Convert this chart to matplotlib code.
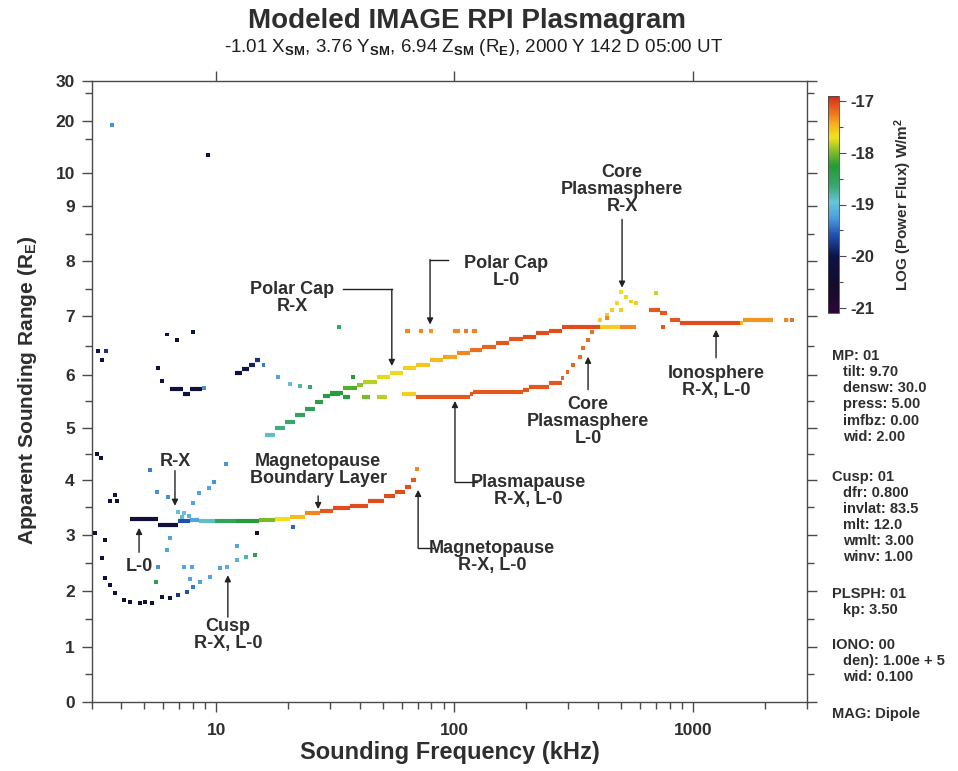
import numpy as np
import matplotlib
matplotlib.use("Agg")
import matplotlib.pyplot as plt
from matplotlib.colors import LinearSegmentedColormap, Normalize
from matplotlib.ticker import FixedLocator, FuncFormatter, NullFormatter

plt.rcParams['font.family'] = ['Liberation Sans', 'DejaVu Sans']
plt.rcParams['font.weight'] = 'bold'
plt.rcParams['mathtext.fontset'] = 'custom'
plt.rcParams['mathtext.rm'] = 'Liberation Sans'
plt.rcParams['mathtext.bf'] = 'Liberation Sans:bold'
plt.rcParams['mathtext.it'] = 'Liberation Sans:italic'

TXT = '#2e2e2e'

# ---------------- data (frequency kHz, apparent range R_E, log power flux) ----
# step segments: low freq, high freq, range, flux
mp_f_lo = [4.35, 5.7, 6.9, 7.75, 8.5, 9.9, 12.1, 15.2, 17.6, 20.4, 23.5, 27.4, 30.9, 36.5, 43.2, 50.4, 56.1, 62.0, 66.0]
mp_f_hi = [5.7, 6.9, 7.75, 8.5, 9.9, 12.1, 15.2, 17.6, 20.4, 23.5, 27.4, 30.9, 36.5, 43.2, 50.4, 56.1, 62.0, 66.0, 69.0]
mp_range = [3.29, 3.19, 3.25, 3.27, 3.26, 3.25, 3.25, 3.27, 3.30, 3.33, 3.40, 3.43, 3.49, 3.53, 3.61, 3.70, 3.79, 3.88, 4.00]
mp_flux = [-20.3, -20.2, -19.6, -19.2, -18.9, -18.5, -18.3, -18.0, -17.7, -17.5, -17.3, -17.1, -17.05, -17.05, -17.05, -17.05, -17.05, -17.05, -17.1]

pcrx_f_lo = [16.0, 17.7, 19.5, 21.4, 23.6, 26.0, 28.1]
pcrx_f_hi = [17.7, 19.5, 21.4, 23.6, 26.0, 28.1, 30.0]
pcrx_range = [4.87, 5.00, 5.12, 5.25, 5.36, 5.49, 5.60]
pcrx_flux = [-18.9, -18.7, -18.6, -18.5, -18.45, -18.4, -18.35]

up_f_lo = [30.0, 34.1, 39.0, 41.4, 47.4, 53.7, 61.1, 69.2, 79.2, 89.4, 102, 116, 131, 150, 170, 193, 219, 250, 284, 409, 496]
up_f_hi = [34.1, 39.0, 41.4, 47.4, 53.7, 61.1, 69.2, 79.2, 89.4, 102, 116, 131, 150, 170, 193, 219, 250, 284, 409, 496, 577]
up_range = [5.66, 5.76, 5.81, 5.87, 5.96, 6.03, 6.12, 6.17, 6.26, 6.31, 6.38, 6.43, 6.48, 6.55, 6.62, 6.65, 6.72, 6.75, 6.82, 6.82, 6.82]
up_flux = [-18.3, -18.1, -17.95, -17.85, -17.75, -17.65, -17.6, -17.55, -17.5, -17.4, -17.3, -17.2, -17.15, -17.1, -17.1, -17.05, -17.05, -17.05, -17.05, -17.6, -17.3]

pp_f_lo = [30.0, 34.1, 41.0, 47.4, 60.2, 69.2, 116, 119.6, 193, 206, 250]
pp_f_hi = [33.1, 36.5, 44.2, 52.2, 69.2, 116, 119.6, 193, 206, 250, 284]
pp_range = [5.64, 5.59, 5.59, 5.59, 5.64, 5.59, 5.64, 5.68, 5.72, 5.77, 5.85]
pp_flux = [-18.3, -18.3, -18.0, -17.85, -17.6, -17.1, -17.1, -17.1, -17.1, -17.1, -17.1]

pcl0_f_lo = [62, 71, 78, 99, 110, 118]
pcl0_f_hi = [65, 74, 81, 106, 114, 124]
pcl0_range = [6.75, 6.75, 6.75, 6.75, 6.75, 6.75]
pcl0_flux = [-17.3, -17.3, -17.35, -17.3, -17.25, -17.3]

iono_f_lo = [654, 731, 802, 886, 1585, 1630]
iono_f_hi = [731, 780, 886, 1585, 1630, 2163]
iono_range = [7.12, 7.06, 6.94, 6.89, 6.89, 6.94]
iono_flux = [-17.1, -17.1, -17.1, -17.05, -17.5, -17.35]

low_f_lo = [6.39, 7.25, 7.75, 12.0, 12.9, 13.8, 14.6]
low_f_hi = [7.25, 7.75, 8.76, 12.9, 13.8, 14.6, 15.3]
low_range = [5.74, 5.64, 5.74, 6.03, 6.10, 6.17, 6.26]
low_flux = [-20.2, -20.2, -20.2, -20.1, -20.0, -19.9, -19.8]

# isolated echoes
pt_freq = [3.67, 9.24,
           3.2, 3.45, 3.33, 6.22, 6.86, 8.0, 5.69, 5.93, 8.9,
           15.8, 18.2, 20.4, 22.5, 24.7, 32.7, 37.5,
           3.15, 3.3, 3.6, 3.85, 3.75,
           3.1, 3.42, 3.32, 3.42, 3.59, 3.77, 4.12, 4.35, 4.79, 5.03, 5.4, 5.93, 6.39,
           6.93, 7.53, 8.0, 8.53, 9.4, 10.4, 11.1, 12.2, 13.4, 14.6,
           5.67, 6.3, 6.9, 8.0, 8.5, 9.3, 9.8, 7.3, 7.7, 7.2,
           5.3, 11.0, 6.4, 6.2, 5.7, 7.3, 7.9, 7.75, 5.6, 12.2, 14.8, 21.0,
           69.8,
           284, 298, 315, 337, 346, 364, 379,
           409, 437, 458, 479, 502, 526, 551, 577, 502, 700, 437,
           750, 2470, 2618]
pt_range = [19.2, 13.5,
            6.40, 6.40, 6.26, 6.69, 6.60, 6.74, 6.12, 5.89, 5.76,
            6.17, 5.96, 5.83, 5.79, 5.77, 6.82, 5.96,
            4.50, 4.43, 3.61, 3.61, 3.72,
            3.04, 2.91, 2.59, 2.23, 2.10, 1.96, 1.83, 1.80, 1.78, 1.80, 1.78, 1.89, 1.87,
            1.92, 1.98, 2.07, 2.16, 2.25, 2.41, 2.43, 2.55, 2.60, 2.64,
            3.78, 3.69, 3.42, 3.58, 3.76, 3.85, 3.96, 3.40, 3.35, 3.32,
            4.20, 4.30, 2.95, 2.73, 2.42, 2.42, 2.42, 2.22, 2.15, 2.80, 3.04, 3.15,
            4.21,
            5.94, 6.05, 6.17, 6.31, 6.46, 6.60, 6.74,
            6.94, 7.03, 7.12, 7.24, 7.45, 7.36, 7.27, 7.25, 7.11, 7.43, 6.97,
            6.82, 6.94, 6.94]
pt_flux = [-19.3, -20.2,
           -20.0, -19.8, -20.1, -20.2, -20.2, -20.0, -20.2, -20.2, -19.3,
           -19.4, -19.2, -19.0, -18.8, -18.6, -18.6, -18.3,
           -20.2, -20.2, -20.2, -20.2, -20.0,
           -20.2, -20.2, -20.2, -20.2, -20.2, -20.2, -20.2, -20.2, -20.2, -20.2, -20.2, -20.1, -20.0,
           -19.8, -19.6, -19.4, -19.2, -19.2, -19.2, -19.1, -19.1, -18.8, -18.4,
           -19.3, -19.3, -19.0, -19.2, -19.2, -19.2, -19.3, -19.0, -19.1, -18.9,
           -19.4, -19.3, -19.2, -19.2, -19.3, -19.2, -19.2, -19.2, -18.4, -19.2, -20.8, -19.5,
           -17.3,
           -17.15, -17.15, -17.15, -17.2, -17.2, -17.2, -17.2,
           -17.6, -17.6, -17.6, -17.65, -17.7, -17.65, -17.6, -17.6, -17.6, -17.8, -17.3,
           -17.1, -17.3, -17.2]

y_ticks = [0, 1, 2, 3, 4, 5, 6, 7, 8, 9, 10, 20, 30]
x_ticks = [10, 100, 1000]
cb_ticks = [-17, -18, -19, -20, -21]

# ---------------- scale for the apparent range axis -----------------------
Y_KNOT_VAL = np.array([0, 1, 2, 3, 4, 5, 6, 7, 8, 9, 10, 20, 30], float)
Y_KNOT_POS = 701.7 - np.array([701.7, 646.7, 590.7, 535, 480, 428.3, 375, 316.7,
                               261.7, 206.7, 173.3, 121.7, 81.7])


def _interp_ext(x, xp, fp):
    x = np.asarray(x, float)
    y = np.interp(x, xp, fp)
    y = np.where(x < xp[0], fp[0] + (x - xp[0]) * (fp[1] - fp[0]) / (xp[1] - xp[0]), y)
    y = np.where(x > xp[-1], fp[-1] + (x - xp[-1]) * (fp[-1] - fp[-2]) / (xp[-1] - xp[-2]), y)
    return y


def y_fwd(v):
    return _interp_ext(v, Y_KNOT_VAL, Y_KNOT_POS)


def y_inv(p):
    return _interp_ext(p, Y_KNOT_POS, Y_KNOT_VAL)


# ---------------- colormap ----------------------------------------------
vmin, vmax = -21.1, -16.9
cpts = [(-21.1, '#2a0838'), (-20.6, '#150a2a'), (-20.0, '#0d1445'),
        (-19.6, '#1f4fb0'), (-19.25, '#4d9fdc'), (-18.95, '#68c3dc'),
        (-18.65, '#3aa872'), (-18.25, '#249a35'), (-17.95, '#8cbf2a'),
        (-17.7, '#f0e21e'), (-17.45, '#f6b321'), (-17.25, '#ef7a22'),
        (-16.9, '#d42b1a')]
cmap = LinearSegmentedColormap.from_list(
    'rpi', [((v - vmin) / (vmax - vmin), c) for v, c in cpts])
norm = Normalize(vmin=vmin, vmax=vmax)

# ---------------- figure ----------------------------------------------
W, H = 958, 771
fig = plt.figure(figsize=(W / 100, H / 100), dpi=100)
ax = fig.add_axes([91.5 / W, 1 - 702 / H, 715 / W, 621 / H])
ax.set_xscale('log')
ax.set_yscale('function', functions=(y_fwd, y_inv))
ax.set_xlim(3, 3000)
ax.set_ylim(0, 30)

for lo, hi, r, fl in [(mp_f_lo, mp_f_hi, mp_range, mp_flux),
                      (pcrx_f_lo, pcrx_f_hi, pcrx_range, pcrx_flux),
                      (up_f_lo, up_f_hi, up_range, up_flux),
                      (pp_f_lo, pp_f_hi, pp_range, pp_flux),
                      (pcl0_f_lo, pcl0_f_hi, pcl0_range, pcl0_flux),
                      (iono_f_lo, iono_f_hi, iono_range, iono_flux),
                      (low_f_lo, low_f_hi, low_range, low_flux)]:
    ax.hlines(r, lo, hi, colors=cmap(norm(np.array(fl))), linewidth=3.0,
              capstyle='butt', zorder=3)

sc = ax.scatter(pt_freq, pt_range, c=pt_flux, cmap=cmap, norm=norm, marker='s',
                s=8, linewidths=0, zorder=4)

# axes styling
for sp in ax.spines.values():
    sp.set_color('#4a4a4a')
    sp.set_linewidth(1.0)
ax.xaxis.set_major_locator(FixedLocator(x_ticks))
ax.xaxis.set_major_formatter(FuncFormatter(lambda v, p: f'{v:g}'))
ax.xaxis.set_minor_locator(FixedLocator([m * d for d in (1, 10, 100, 1000) for m in range(2, 10)
                                         if 3 <= m * d <= 3000 and m * d not in x_ticks]))
ax.xaxis.set_minor_formatter(NullFormatter())
ax.yaxis.set_major_locator(FixedLocator(y_ticks))
ax.yaxis.set_major_formatter(FuncFormatter(lambda v, p: f'{v:g}'))
ax.yaxis.set_minor_locator(FixedLocator([0.5 + i for i in range(9)] + [16.6, 27.1]))
ax.yaxis.set_minor_formatter(NullFormatter())
ax.tick_params(which='both', direction='out', right=True,
               color='#4a4a4a', width=1.0, labelcolor=TXT, labelsize=12.5)
ax.tick_params(which='major', length=7, pad=5, top=True)
ax.tick_params(which='minor', length=5)
ax.tick_params(axis='x', which='major', pad=8)

# annotations


def arrow(f, r0, r1):
    ax.annotate('', xy=(f, r1), xytext=(f, r0),
                arrowprops=dict(arrowstyle='-|>', color='#222222', lw=1.0,
                                mutation_scale=9, shrinkA=0, shrinkB=0), zorder=5)


def label(f, r, s, ha='center'):
    ax.text(f, r, s, ha=ha, va='center', fontsize=13, color=TXT,
            linespacing=1.0, zorder=6)


label(20.8, 7.34, 'Polar Cap\nR-X')
ax.plot([34.1, 54.6], [7.49, 7.49], color='#222222', lw=1.0)
arrow(54.6, 7.49, 6.15)

label(164.7, 7.81, 'Polar Cap\nL-0')
ax.plot([93.7, 79.0], [8.03, 8.03], color='#222222', lw=1.0)
arrow(79.0, 8.03, 6.86)

label(505, 9.5, 'Core\nPlasmasphere\nR-X')
arrow(505, 8.76, 7.52)

label(363.6, 5.12, 'Core\nPlasmasphere\nL-0')
arrow(363.6, 5.72, 6.31)

label(1252, 5.87, 'Ionosphere\nR-X, L-0')
arrow(1252, 6.29, 6.77)

label(203.8, 3.80, 'Plasmapause\nR-X, L-0')
ax.plot([100.5, 124.4], [3.96, 3.96], color='#222222', lw=1.0)
arrow(100.5, 3.96, 5.51)

label(143.8, 2.60, 'Magnetopause\nR-X, L-0')
ax.plot([70.4, 81.1], [2.77, 2.77], color='#222222', lw=1.0)
arrow(70.4, 2.77, 3.82)

label(26.8, 4.20, 'Magnetopause\nBoundary Layer')
arrow(26.8, 3.71, 3.47)

label(6.72, 4.36, 'R-X')
arrow(6.72, 4.18, 3.53)

label(4.75, 2.43, 'L-0')
arrow(4.75, 2.69, 3.13)

label(11.2, 1.21, 'Cusp\nR-X, L-0')
arrow(11.2, 1.53, 2.28)

# colorbar
cax = fig.add_axes([828 / W, 1 - 313 / H, 11 / W, 217 / H])
cb = fig.colorbar(sc, cax=cax)
cb.set_ticks(cb_ticks)
cb.ax.set_yticklabels([f'{t:d}' for t in cb_ticks])
cb.ax.yaxis.set_minor_locator(FixedLocator([-17.5, -18.5, -19.5, -20.5]))
cb.ax.tick_params(which='both', direction='out', color='#4a4a4a', labelcolor=TXT,
                  labelsize=12, width=0.8)
cb.ax.tick_params(which='major', length=5, pad=3)
cb.ax.tick_params(which='minor', length=3)
cb.outline.set_linewidth(0.6)
cb.outline.set_edgecolor('#4a4a4a')
fig.text(903 / W, 1 - 205 / H, r'LOG (Power Flux) W/m$^\mathbf{2}$', rotation=90,
         ha='center', va='center', fontsize=11, color=TXT)

# titles and labels
fig.text(467 / W, 1 - 21 / H, 'Modeled IMAGE RPI Plasmagram', ha='center', va='center',
         fontsize=20, color=TXT)
fig.text(474 / W, 1 - 47 / H,
         r'-1.01 X$_{\mathrm{SM}}$, 3.76 Y$_{\mathrm{SM}}$, 6.94 Z$_{\mathrm{SM}}$ '
         r'(R$_{\mathrm{E}}$), 2000 Y 142 D 05:00 UT',
         ha='center', va='center', fontsize=13.5, fontweight='normal', color='#1e1e1e')
fig.text(450 / W, 1 - 752 / H, 'Sounding Frequency (kHz)', ha='center', va='center',
         fontsize=17, color=TXT)
fig.text(28 / W, 1 - 390 / H, r'Apparent Sounding Range (R$_\mathbf{E}$)', rotation=90,
         ha='center', va='center', fontsize=15, color=TXT)

# model parameter block
side = [('MP: 01', 0, 356), ('tilt: 9.70', 1, 372), ('densw: 30.0', 1, 388),
        ('press: 5.00', 1, 404), ('imfbz: 0.00', 1, 421), ('wid: 2.00', 1, 437),
        ('Cusp: 01', 0, 477), ('dfr: 0.800', 1, 493), ('invlat: 83.5', 1, 509),
        ('mlt: 12.0', 1, 525), ('wmlt: 3.00', 1, 541), ('winv: 1.00', 1, 557),
        ('PLSPH: 01', 0, 594), ('kp: 3.50', 1, 610),
        ('IONO: 00', 0, 645), ('den): 1.00e + 5', 1, 661), ('wid: 0.100', 1, 677),
        ('MAG: Dipole', 0, 714)]
for s, ind, yy in side:
    fig.text((832 + 11 * ind) / W, 1 - yy / H, s, ha='left', va='center',
             fontsize=10.5, color=TXT)

fig.savefig('out.png', dpi=100, facecolor='white')
